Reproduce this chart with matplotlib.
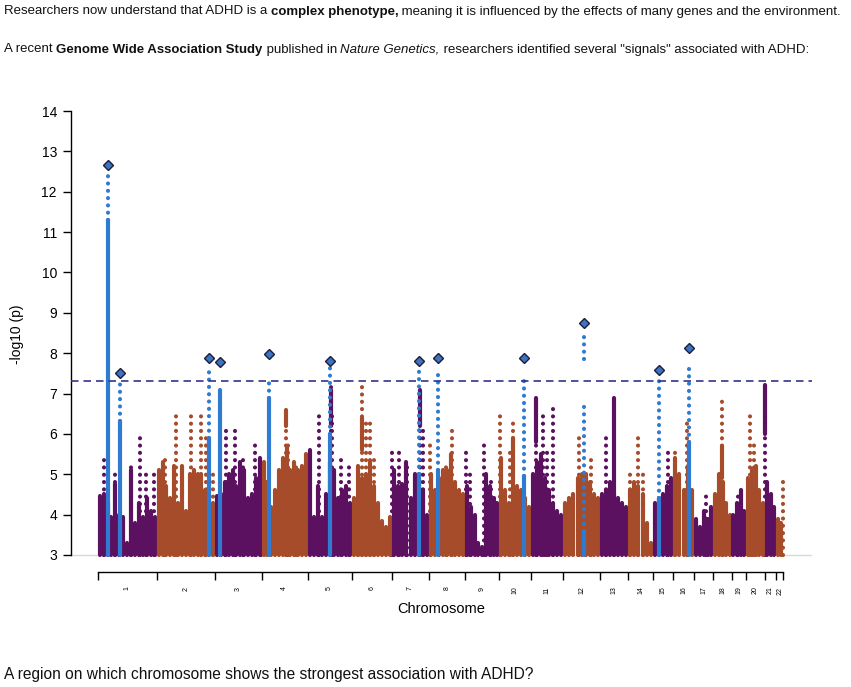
import numpy as np
import matplotlib
matplotlib.use("Agg")
import matplotlib.pyplot as plt
from matplotlib.font_manager import FontProperties

plt.rcParams['font.family'] = ['Liberation Sans', 'DejaVu Sans']

W, H = 851, 687

# chromosome widths on the plot (proportional to number of markers)
chrom_names = [str(i) for i in range(1, 23)]
chrom_width = [59, 58.3, 46.7, 46, 44, 40, 37.6, 35.7, 34.3, 31.7, 32.3,
               36.7, 27.7, 25.6, 19.4, 21.6, 19, 18.4, 14.3, 19, 11, 7.3]

# top of the dense cloud of points, left to right within each chromosome
body_heights = [
    [4.45, 4.5, 4.3, 3.95, 4.75, 4.0, 3.95, 3.3, 5.1, 3.8, 4.3, 3.95, 4.4, 4.1, 3.95],
    [5.1, 5.3, 4.7, 4.4, 5.2, 4.3, 5.2, 4.1, 5.0, 5.1, 5.0, 5.0, 4.6, 4.4, 4.3],
    [4.45, 4.5, 4.8, 5.0, 5.1, 4.7, 5.3, 5.1, 4.4, 4.5, 4.9, 5.4],
    [5.3, 4.8, 4.2, 4.6, 5.1, 5.4, 5.7, 5.1, 5.3, 5.1, 5.2, 5.5],
    [5.6, 3.95, 4.7, 3.95, 4.5, 5.3, 5.1, 4.4, 4.6, 4.7, 4.3],
    [4.4, 5.2, 4.9, 5.0, 5.3, 4.7, 4.3, 3.85, 3.7, 3.95],
    [5.1, 4.7, 4.75, 5.3, 4.4, 5.0, 4.8, 4.6, 4.0],
    [5.0, 4.6, 4.9, 5.1, 5.1, 5.5, 4.8, 4.6, 4.5],
    [4.7, 4.2, 4.0, 3.3, 3.2, 5.0, 4.7, 4.4, 4.3],
    [5.4, 4.6, 4.3, 5.0, 4.7, 4.6, 4.4, 4.2],
    [5.0, 5.3, 5.5, 4.9, 4.6, 4.3, 4.1, 4.0],
    [4.3, 4.4, 4.5, 4.9, 5.0, 5.0, 4.8, 4.5, 4.4],
    [4.5, 4.6, 4.8, 4.5, 4.4, 4.3, 4.2],
    [4.6, 4.8, 4.7, 4.5, 3.8, 3.3],
    [4.3, 4.4, 4.5, 4.7, 4.9],
    [5.4, 5.0, 4.6, 5.2, 4.6],
    [3.9, 3.7, 4.1, 3.9, 4.2],
    [4.5, 5.0, 4.8, 4.3, 4.0],
    [4.0, 4.3, 4.6, 4.1],
    [4.9, 5.1, 5.2, 4.6, 4.3],
    [4.8, 4.5, 4.2],
    [3.9, 3.8],
]

# sparse columns of points above the cloud
spike_pos = [6.0, 17.3, 33.3, 41.8, 48.3, 56.3,
             67.0, 78.6, 93.6, 103.6, 108.6, 115.0,
             128.6, 137.0, 145.3, 157.0, 163.3,
             188.6, 190.3, 198.3,
             221.0, 232.8, 234.3, 243.3, 251.3,
             260.3, 264.3, 268.3, 271.8, 276.3,
             294.3, 301.0, 309.3, 322.6, 325.3,
             332.6, 348.3, 354.0,
             368.3, 372.3, 386.6, 393.3,
             402.1, 412.3, 415.3,
             438.3, 445.0, 449.3, 455.0,
             481.6, 493.3,
             508.3, 516.3,
             532.3, 540.0, 545.6,
             570.6,
             577.3, 589.0,
             608.0, 624.0, 640.6, 652.3, 656.3, 667.6, 685.3]
spike_top = [5.4, 5.1, 5.2, 5.9, 5.1, 5.0,
             5.4, 6.6, 6.45, 6.45, 5.9, 5.1,
             6.25, 6.25, 5.5, 5.8, 5.3,
             6.6, 5.8, 5.2,
             6.6, 7.15, 6.6, 5.5, 5.2,
             5.3, 7.2, 6.3, 6.3, 5.4,
             5.6, 5.7, 5.3, 7.1, 6.2,
             5.75, 5.3, 6.1,
             5.65, 5.0, 5.8, 4.9,
             6.55, 5.6, 6.3,
             6.9, 6.5, 5.7, 6.7,
             5.9, 5.5,
             5.9, 6.9,
             5.1, 6.0, 5.0,
             5.7,
             5.7, 6.4,
             4.6, 6.85, 4.6, 6.6, 5.8, 7.25, 4.8]

# dense stretches inside some of those columns
dense_pos = [232.8, 322.6, 516.3, 667.6, 264.3, 438.3, 624.0, 188.6, 415.3]
dense_lo = [6.2, 6.2, 4.4, 6.0, 5.6, 5.8, 4.9, 6.2, 5.0]
dense_hi = [7.1, 7.1, 6.9, 7.2, 6.4, 6.9, 5.7, 6.6, 5.9]

# highlighted (blue) association signals
sig_pos = [10.0, 22.3, 111.0, 122.0, 171.0, 232.0, 321.0, 340.0, 426.0, 486.6, 561.6, 591.3]
sig_peak = [12.66, 7.51, 7.88, 7.78, 7.98, 7.81, 7.81, 7.88, 7.88, 8.75, 7.58, 8.13]
sig_solid_top = [11.3, 6.33, 5.9, 7.1, 6.9, 6.0, 5.0, 5.1, 4.95, 3.6, 4.4, 5.8]

blue_dot_pos = [10.0, 22.3, 111.0, 171.0, 232.0, 321.0, 340.0, 426.0, 486.6, 486.6, 561.6, 591.3]
blue_dot_lo = [11.3, 6.33, 5.9, 6.9, 6.0, 5.0, 5.1, 4.95, 3.6, 7.85, 4.4, 5.8]
blue_dot_hi = [12.4, 7.35, 7.55, 7.4, 7.65, 7.6, 7.6, 7.3, 6.7, 8.55, 7.4, 7.75]

threshold = -np.log10(5e-8)

purple = '#5c1160'
brown = '#a64c2b'
blue = '#2f7bd1'
chrom_colors = [purple if i % 2 == 0 else brown for i in range(22)]

bounds = np.concatenate([[0], np.cumsum(chrom_width)])
centers = (bounds[:-1] + bounds[1:]) / 2

fig = plt.figure(figsize=(W / 100, H / 100), dpi=100)

ax_l, ax_r, ax_t, ax_b = 70.5, 812, 100, 560
ax = fig.add_axes([ax_l / W, 1 - ax_b / H, (ax_r - ax_l) / W, (ax_b - ax_t) / H])
ppu = 40.36  # pixels per -log10 unit
ax.set_ylim(3 - (ax_b - 555) / ppu, 14 + (111 - ax_t) / ppu)
ax.set_xlim(-(97.7 - ax_l), ax_r - 97.7)

ax.axhline(3, color='#d9d9d9', lw=1, zorder=0)

dot_style = (0, (0.001, 1.75))
lw_pt = 3.0

# dense cloud
for i, hts in enumerate(body_heights):
    n = len(hts)
    xs = bounds[i] + (np.arange(n) + 0.5) * chrom_width[i] / n
    lc = ax.vlines(xs, 3, hts, colors=chrom_colors[i], lw=lw_pt, zorder=2)
    lc.set_capstyle('round')

# sparse columns
spike_chrom = np.clip(np.searchsorted(bounds, spike_pos) - 1, 0, 21)
lc = ax.vlines(spike_pos, 3, spike_top, colors=[chrom_colors[c] for c in spike_chrom],
               lw=lw_pt, linestyles=[dot_style], zorder=1)
lc.set_capstyle('round')
dense_chrom = np.clip(np.searchsorted(bounds, dense_pos) - 1, 0, 21)
lc = ax.vlines(dense_pos, dense_lo, dense_hi, colors=[chrom_colors[c] for c in dense_chrom],
               lw=lw_pt, zorder=2)
lc.set_capstyle('round')

# signals
lc = ax.vlines(sig_pos, 3, sig_solid_top, colors=blue, lw=lw_pt, zorder=3)
lc.set_capstyle('round')
lc = ax.vlines(blue_dot_pos, blue_dot_lo, blue_dot_hi, colors=blue, lw=lw_pt,
               linestyles=[dot_style], zorder=3)
lc.set_capstyle('round')
ax.plot(sig_pos, sig_peak, 'D', ms=5.6, mfc='#3d74c0', mec='#1c1c3c', mew=1.0,
        zorder=5, clip_on=False)

ax.axhline(threshold, color='#33338a', lw=1.2, ls=(0, (4.5, 3)), zorder=4)

# axes styling
for s in ['top', 'right']:
    ax.spines[s].set_visible(False)
ax.spines['left'].set_bounds(3, 14)
ax.spines['left'].set_linewidth(1.0)
ax.set_yticks(range(3, 15))
ax.tick_params(axis='y', length=8 * 0.72, width=1, labelsize=10, pad=4)

ax.spines['bottom'].set_position(('outward', 12 * 0.72))
ax.spines['bottom'].set_bounds(bounds[0], bounds[-1])
ax.spines['bottom'].set_linewidth(1.0)
ax.set_xticks(bounds)
ax.set_xticklabels([])
ax.set_xticks(centers, minor=True)
ax.set_xticklabels(chrom_names, minor=True, rotation=90, fontsize=5)
ax.tick_params(axis='x', which='major', length=8 * 0.72, width=1)
ax.tick_params(axis='x', which='minor', length=0, pad=10.5)

fig.text(441 / W, 1 - 609 / H, 'Chromosome', fontsize=10.5, ha='center', va='center')
fig.text(17 / W, 1 - 334 / H, '-log10 (p)', fontsize=10, rotation=90, ha='center', va='center')

# rich text lines
renderer = fig.canvas.get_renderer()


def text_width(s, size, weight, style):
    prop = FontProperties(family=['Liberation Sans'], size=size, weight=weight, style=style)
    w1, _, _ = renderer.get_text_width_height_descent(s + '|', prop, ismath=False)
    w2, _, _ = renderer.get_text_width_height_descent('|', prop, ismath=False)
    return w1 - w2


def rich_line(parts, x0, baseline, target):
    size = 10.0
    total = sum(text_width(t, size, w, s) for t, w, s in parts)
    size *= target / total
    x = x0
    for t, w, s in parts:
        fig.text(x / W, 1 - baseline / H, t, fontsize=size, fontweight=w, fontstyle=s,
                 ha='left', va='baseline', color='#111111')
        x += text_width(t, size, w, s)


line1 = [('Researchers now understand that ADHD is a ', 'normal', 'normal'),
         ('complex phenotype,', 'bold', 'normal'),
         (' meaning it is influenced by the effects of many genes and the environment.', 'normal', 'normal')]
line2 = [('A recent ', 'normal', 'normal'),
         ('Genome Wide Association Study', 'bold', 'normal'),
         (' published in ', 'normal', 'normal'),
         ('Nature Genetics,', 'normal', 'italic'),
         (' researchers identified several "signals" associated with ADHD:', 'normal', 'normal')]
line3 = [('A region on which chromosome shows the strongest association with ADHD?', 'normal', 'normal')]

rich_line(line1, 4, 14.5, 842)
rich_line(line2, 4, 52.5, 812)
rich_line(line3, 4, 679, 532)

fig.savefig('out.png', dpi=100)
